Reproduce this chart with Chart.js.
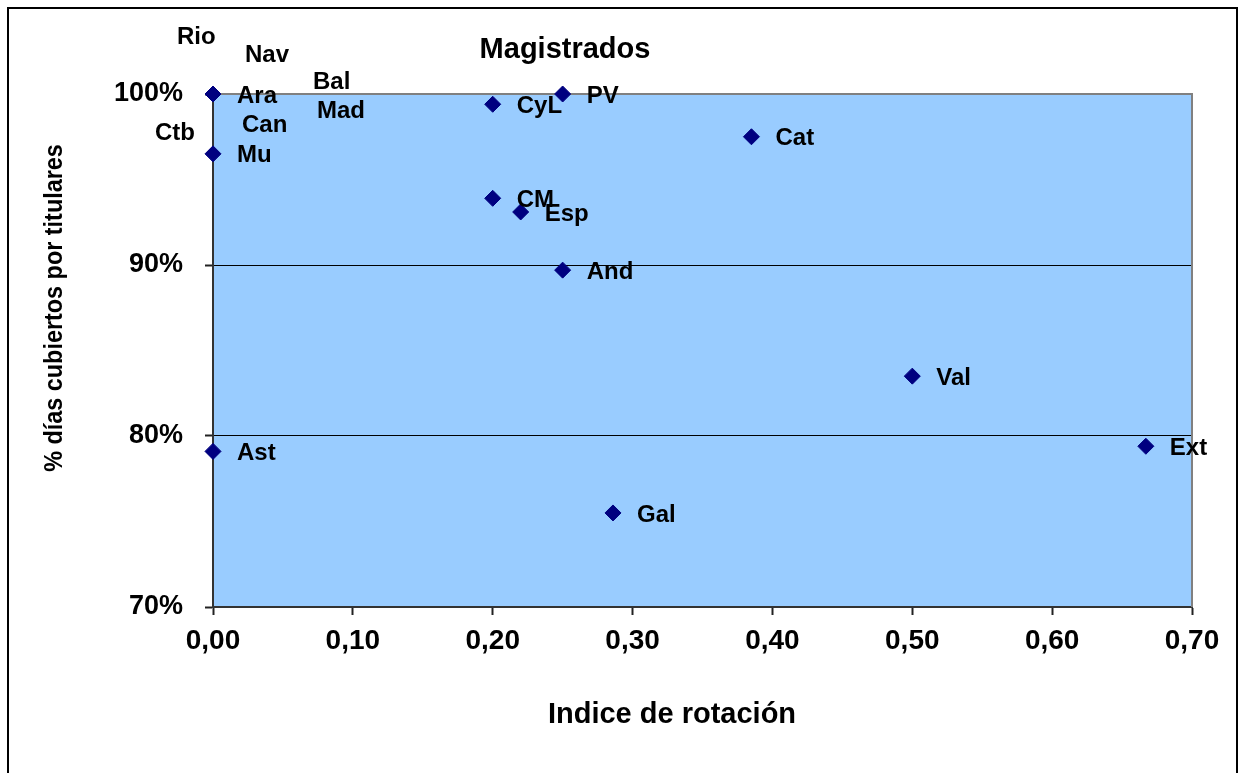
<!DOCTYPE html>
<html>
<head>
<meta charset="utf-8">
<title>Magistrados</title>
<script src="https://cdn.jsdelivr.net/npm/chart.js@4.4.0/dist/chart.umd.min.js"></script>
<style>
  html, body { margin: 0; padding: 0; background: #fff; }
  #wrap { width: 1242px; height: 773px; }
</style>
</head>
<body>
<div id="wrap"><canvas id="magChart" width="1242" height="773"></canvas></div>
<script>
/*********************************************************************
 *                            CHART DATA
 *********************************************************************/
const regions = ["Ara", "Rio", "Nav", "Bal", "Mad", "Can", "Ctb", "Mu", "Ast",
  "CyL", "PV", "Cat", "CM", "Esp", "And", "Val", "Ext", "Gal"];
const rotationIndex = [0, 0, 0, 0, 0, 0, 0, 0, 0,
  0.20, 0.25, 0.385, 0.20, 0.22, 0.25, 0.50, 0.667, 0.286];
const coveredDays = [1.00, 1.00, 1.00, 1.00, 1.00, 1.00, 1.00, 0.965, 0.791,
  0.994, 1.00, 0.975, 0.939, 0.931, 0.897, 0.835, 0.794, 0.755];
const xTicks = [0, 0.1, 0.2, 0.3, 0.4, 0.5, 0.6, 0.7];
const yTicks = [0.7, 0.8, 0.9, 1.0];
const gridValues = [0.8, 0.9];

// labels that were dragged away from their marker (offset of label start, px)
const movedLabels = {
  Rio: [-36, -57], Nav: [32, -39], Bal: [100, -12],
  Mad: [104, 17], Can: [29, 31], Ctb: [-58, 39],
};

/*********************************************************************
 *                            SETTINGS
 *********************************************************************/
const FONT = "'Liberation Sans', Arial, sans-serif";
const NAVY = "#000080";
const PLOT_BG = "#99ccff";

const chartTitle = "Magistrados";
const xTitle = "Indice de rotación";
const yTitle = "% días cubiertos por titulares";

/*********************************************************************
 *                            PLUGINS
 *********************************************************************/
const backdropPlugin = {
  id: "backdrop",
  beforeDraw(chart) {
    const { ctx, chartArea: a } = chart;
    ctx.save();
    ctx.fillStyle = "#fff";
    ctx.fillRect(0, 0, chart.width, chart.height);
    ctx.strokeStyle = "#000";
    ctx.lineWidth = 2;
    ctx.strokeRect(8, 8, 1229, 800);
    ctx.fillStyle = PLOT_BG;
    ctx.fillRect(a.left, a.top, a.right - a.left, a.bottom - a.top);
    ctx.restore();
  },
  beforeDatasetsDraw(chart) {
    // grey frame on the top and right side of the plot
    const { ctx, chartArea: a } = chart;
    ctx.save();
    ctx.strokeStyle = "#808080";
    ctx.lineWidth = 2;
    ctx.beginPath();
    ctx.moveTo(a.left, a.top);
    ctx.lineTo(a.right, a.top);
    ctx.lineTo(a.right, a.bottom);
    ctx.stroke();
    ctx.restore();
  },
};

const textPlugin = {
  id: "texts",
  afterDatasetsDraw(chart) {
    const ctx = chart.ctx;
    const meta = chart.getDatasetMeta(0);
    ctx.save();
    ctx.fillStyle = "#000";

    // point labels
    ctx.font = "bold 24px " + FONT;
    ctx.textAlign = "left";
    ctx.textBaseline = "middle";
    meta.data.forEach((pt, i) => {
      const shift = movedLabels[regions[i]] || [24, 2];
      ctx.fillText(regions[i], pt.x + shift[0], pt.y + shift[1]);
    });

    // titles
    ctx.textAlign = "center";
    ctx.textBaseline = "alphabetic";
    ctx.font = "bold 29px " + FONT;
    ctx.fillText(chartTitle, 565, 58);
    ctx.fillText(xTitle, 672, 723);

    // y title, a little squeezed along its length like the original
    ctx.font = "bold 26px " + FONT;
    ctx.translate(62, 308);
    ctx.rotate(-Math.PI / 2);
    ctx.scale(0.9, 1);
    ctx.fillText(yTitle, 0, 0);
    ctx.restore();
  },
};

/*********************************************************************
 *                            RENDER
 *********************************************************************/
const points = regions.map((r, i) => ({ x: rotationIndex[i], y: coveredDays[i] }));

new Chart(document.getElementById("magChart"), {
  type: "scatter",
  data: {
    datasets: [{
      label: "Magistrados",
      data: points,
      pointStyle: "rectRot",
      pointRadius: 8,
      pointHoverRadius: 8,
      backgroundColor: NAVY,
      borderColor: NAVY,
      borderWidth: 1,
      clip: false,
    }],
  },
  options: {
    responsive: false,
    animation: false,
    layout: { padding: { top: 94, right: 50, left: 0, bottom: 0 } },
    plugins: {
      legend: { display: false },
      tooltip: { enabled: false },
      title: { display: false },
    },
    scales: {
      x: {
        type: "linear",
        min: 0,
        max: 0.7,
        afterBuildTicks: (s) => { s.ticks = xTicks.map((v) => ({ value: v })); },
        afterFit: (s) => { s.height = 166; },
        ticks: {
          color: "#000",
          padding: 9,
          font: { family: FONT, size: 28, weight: "bold" },
          callback: (v) => Number(v).toFixed(2).replace(".", ","),
          maxRotation: 0,
          autoSkip: false,
        },
        grid: { drawOnChartArea: false, tickLength: 8, tickColor: "#222", tickWidth: 2 },
        border: { color: "#333", width: 2 },
      },
      y: {
        type: "linear",
        min: 0.7,
        max: 1.0,
        afterBuildTicks: (s) => { s.ticks = yTicks.map((v) => ({ value: v })); },
        afterFit: (s) => { s.width = 213; },
        ticks: {
          color: "#000",
          padding: 22,
          font: { family: FONT, size: 27, weight: "bold" },
          callback: (v) => Math.round(v * 100) + "%",
          autoSkip: false,
        },
        grid: {
          tickLength: 8,
          tickColor: "#222",
          tickWidth: 2,
          lineWidth: 1,
          color: (c) => gridValues.some((g) => c.tick && Math.abs(c.tick.value - g) < 1e-6) ? "#000" : "rgba(0,0,0,0)",
        },
        border: { color: "#333", width: 2 },
      },
    },
  },
  plugins: [backdropPlugin, textPlugin],
});
</script>
</body>
</html>
